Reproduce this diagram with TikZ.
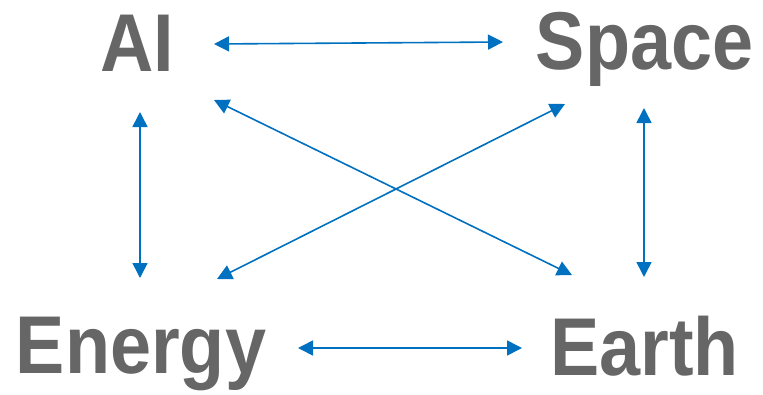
\documentclass[tikz,border=0pt]{standalone}
\usepackage{fontspec}
\setmainfont{Liberation Sans}
\usetikzlibrary{arrows.meta}
\definecolor{txtgray}{HTML}{666666}
\definecolor{arrblue}{HTML}{0070C0}
\tikzset{
  word/.style={anchor=base, text=txtgray, inner sep=0pt,
    font=\fontsize{82}{82}\selectfont\bfseries},
  link/.style={draw=arrblue, line width=1.6pt,
    {Triangle[length=15pt,width=15pt]}-{Triangle[length=15pt,width=15pt]}}
}
\newcommand{\sq}[1]{\scalebox{0.9}[1]{#1}}
\begin{document}
\begin{tikzpicture}[x=1pt,y=-1pt]
\useasboundingbox (0,0) rectangle (763,394);
\node[word] (ai) at (137.5,71) {\sq{AI}};
\node[word] (space) at (644.5,69) {\sq{Space}};
\node[word] (energy) at (141,373) {\sq{Energy}};
\node[word] (earth) at (644.5,375) {\sq{Earth}};
% arrow end points
\coordinate (aiR) at (214,44);
\coordinate (spL) at (503,42);
\coordinate (aiD) at (214,100);
\coordinate (eaU) at (572,275);
\coordinate (enU) at (217,279);
\coordinate (spD) at (565,104);
\coordinate (aiB) at (140,112);
\coordinate (enT) at (140,278);
\coordinate (spB) at (644,108);
\coordinate (eaT) at (644,277);
\coordinate (enR) at (298,348);
\coordinate (eaL) at (522,348);
\draw[link] (aiR) -- (spL);
\draw[link] (aiD) -- (eaU);
\draw[link] (enU) -- (spD);
\draw[link] (aiB) -- (enT);
\draw[link] (spB) -- (eaT);
\draw[link] (enR) -- (eaL);
\end{tikzpicture}
\end{document}
